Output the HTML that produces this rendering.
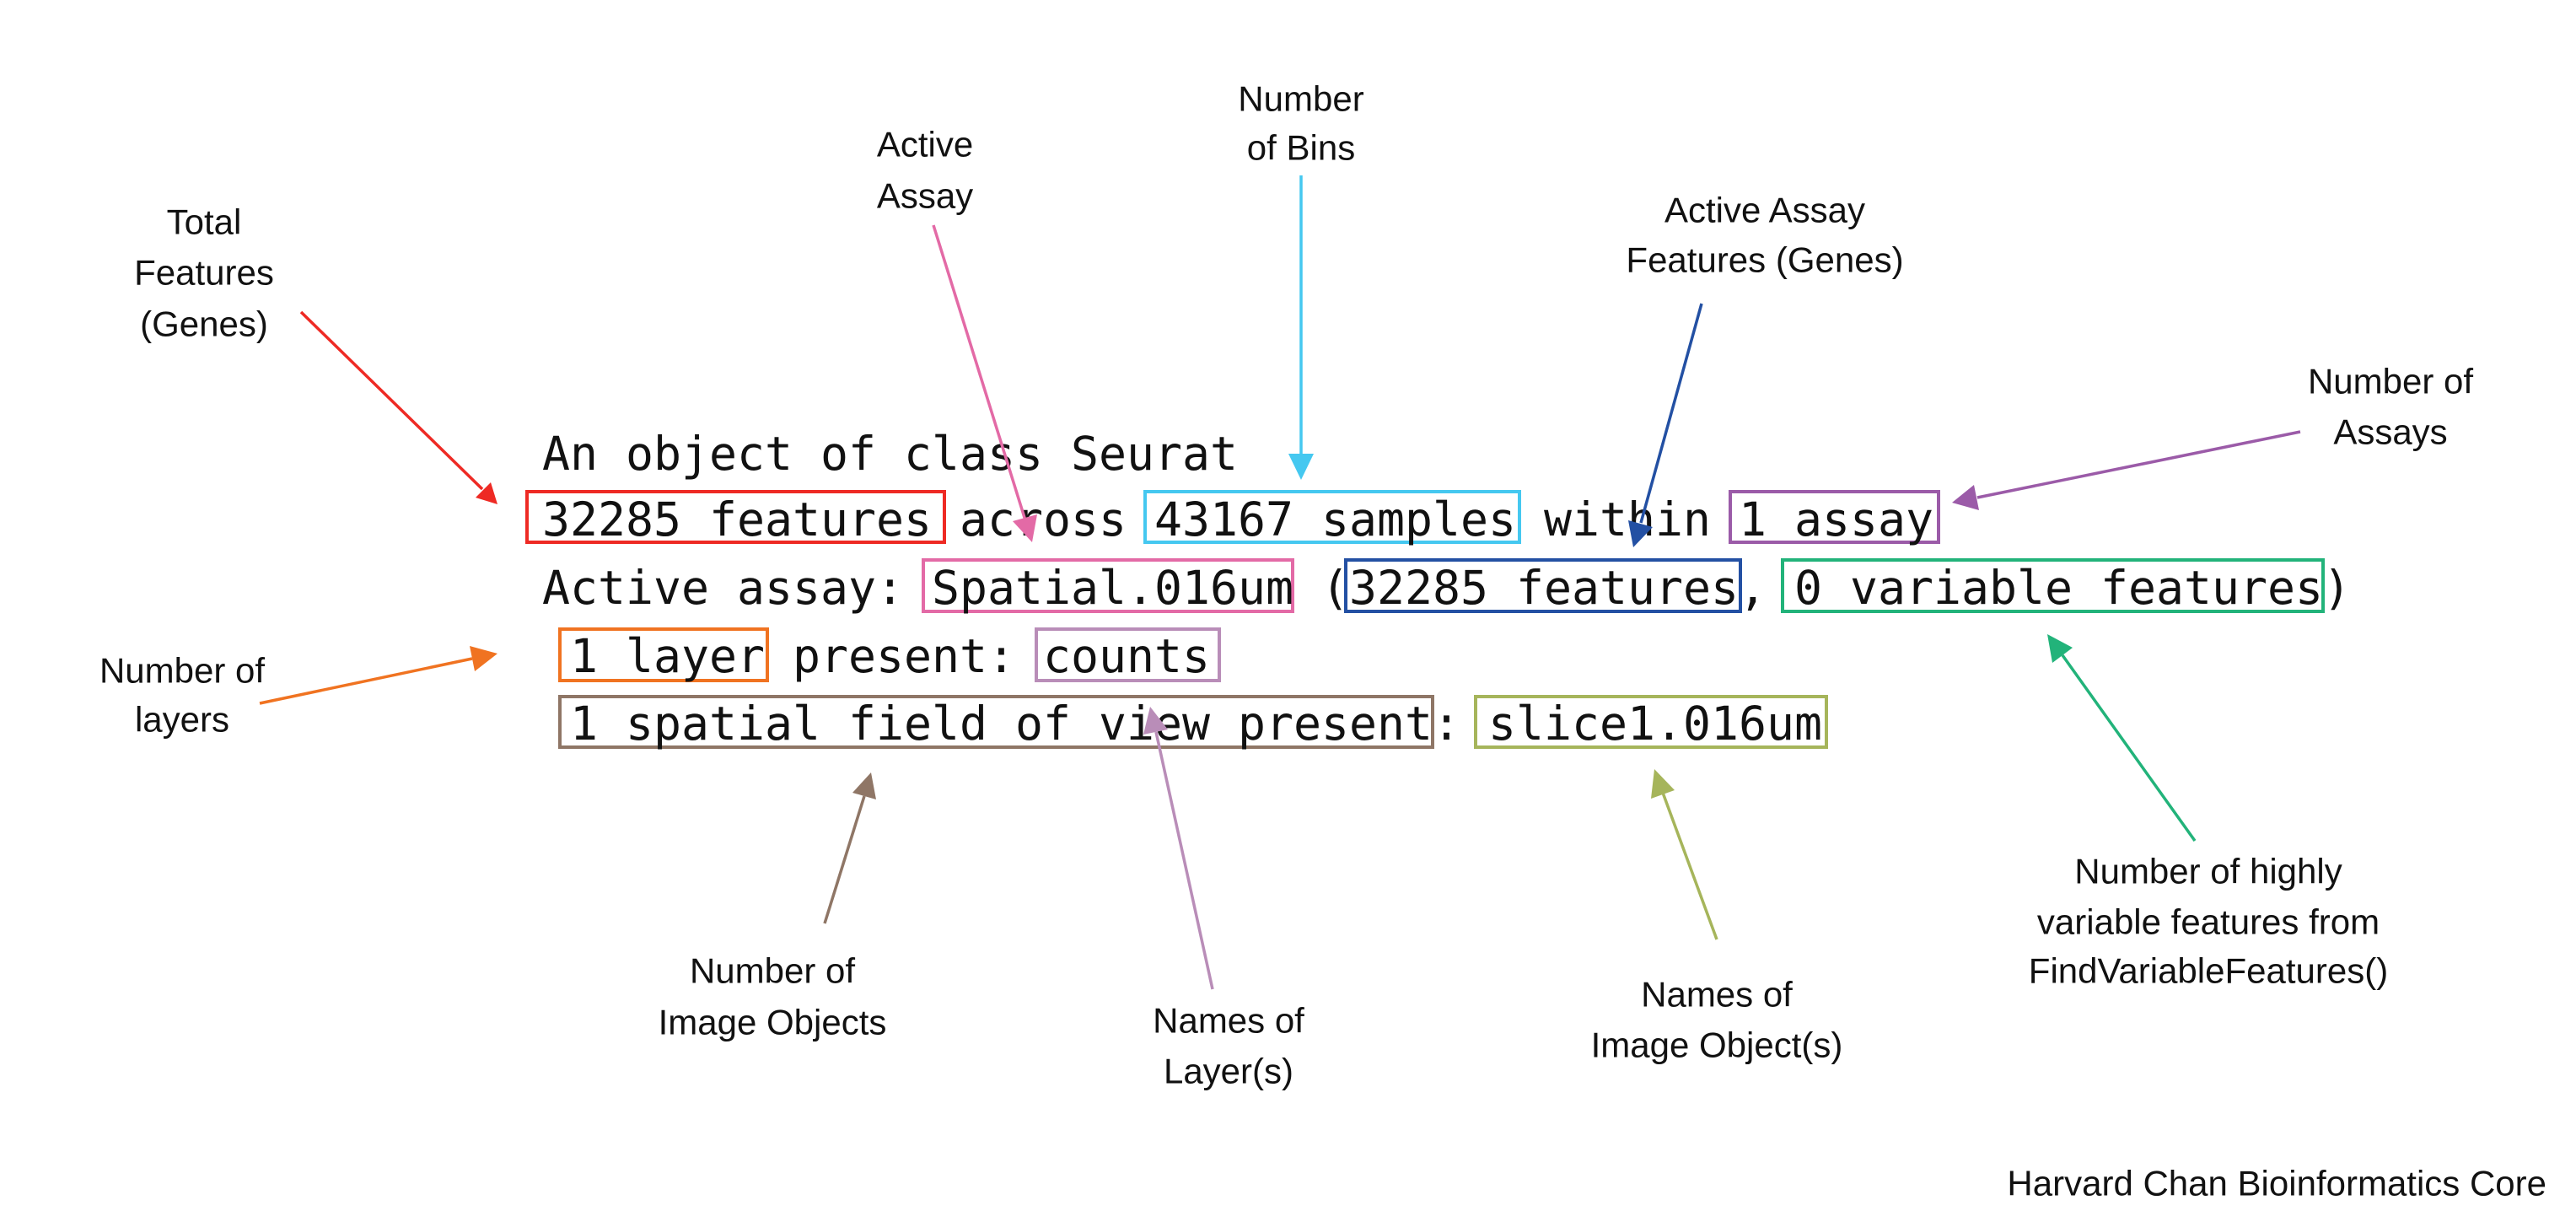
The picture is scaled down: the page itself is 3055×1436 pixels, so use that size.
<!DOCTYPE html>
<html><head><meta charset="utf-8"><style>
html,body{margin:0;padding:0;background:#fff;}
svg{display:block;}
.m{font-family:"DejaVu Sans Mono","Liberation Mono",monospace;font-size:55px;fill:#111;}
.l{font-family:"Liberation Sans",sans-serif;font-size:42px;fill:#111;text-anchor:middle;dominant-baseline:central;}
</style></head><body>
<svg width="3055" height="1436" viewBox="0 0 3055 1436" xmlns="http://www.w3.org/2000/svg">
<g fill="none" stroke-width="4">
<rect x="625" y="583" width="495" height="60" stroke="#ee2a24"/>
<rect x="1358" y="583" width="444" height="60" stroke="#45c8f0"/>
<rect x="2052" y="583" width="247" height="60" stroke="#9b5ba8"/>
<rect x="1095" y="664" width="438" height="61" stroke="#e36aa6"/>
<rect x="1596" y="664" width="468" height="61" stroke="#2350a3"/>
<rect x="2114" y="664" width="641" height="61" stroke="#22b37a"/>
<rect x="664" y="746" width="246" height="61" stroke="#f07321"/>
<rect x="1229" y="746" width="217" height="61" stroke="#b98db8"/>
<rect x="664" y="826" width="1035" height="60" stroke="#8f7666"/>
<rect x="1750" y="826" width="416" height="60" stroke="#a6b55b"/>
</g>
<text class="m" x="643" y="557" textLength="825" lengthAdjust="spacingAndGlyphs">An object of class Seurat</text>
<text class="m" x="643" y="635" textLength="1650" lengthAdjust="spacingAndGlyphs">32285 features across 43167 samples within 1 assay</text>
<text class="m" x="643" y="716" textLength="2145" lengthAdjust="spacingAndGlyphs">Active assay: Spatial.016um (32285 features, 0 variable features)</text>
<text class="m" x="676" y="797" textLength="759" lengthAdjust="spacingAndGlyphs">1 layer present: counts</text>
<text class="m" x="676" y="877" textLength="1485" lengthAdjust="spacingAndGlyphs">1 spatial field of view present: slice1.016um</text>
<g stroke-width="3.5" fill="none">
<line x1="357" y1="370" x2="572" y2="580" stroke="#ee2a24"/>
<line x1="1107" y1="267" x2="1216" y2="617" stroke="#e36aa6"/>
<line x1="1543" y1="208" x2="1543" y2="540" stroke="#45c8f0"/>
<line x1="2018" y1="360" x2="1946" y2="620" stroke="#2350a3"/>
<line x1="2728" y1="512" x2="2345" y2="590" stroke="#9b5ba8"/>
<line x1="308" y1="834" x2="560" y2="781" stroke="#f07321"/>
<line x1="2603" y1="997" x2="2446" y2="777" stroke="#22b37a"/>
<line x1="2036" y1="1114" x2="1972" y2="940" stroke="#a6b55b"/>
<line x1="1438" y1="1173" x2="1371" y2="868" stroke="#b98db8"/>
<line x1="978" y1="1095" x2="1025" y2="944" stroke="#8f7666"/>
</g>
<g>
<polygon points="590,598 564,590 582,572" fill="#ee2a24"/>
<polygon points="1224,643 1201,618 1230,610" fill="#e36aa6"/>
<polygon points="1543,569 1528,538 1558,538" fill="#45c8f0"/>
<polygon points="1937,649 1931,617 1960,625" fill="#2350a3"/>
<polygon points="2315,596 2341,575 2347,605" fill="#9b5ba8"/>
<polygon points="590,775 563,796 557,766" fill="#f07321"/>
<polygon points="2428,752 2458,768 2434,786" fill="#22b37a"/>
<polygon points="1962,912 1986,937 1958,947" fill="#a6b55b"/>
<polygon points="1364,838 1385,865 1356,871" fill="#b98db8"/>
<polygon points="1033,916 1039,948 1011,940" fill="#8f7666"/>
</g>
<text class="l" x="242" y="263">Total</text>
<text class="l" x="242" y="323">Features</text>
<text class="l" x="242" y="384">(Genes)</text>
<text class="l" x="1097" y="171">Active</text>
<text class="l" x="1097" y="232">Assay</text>
<text class="l" x="1543" y="117">Number</text>
<text class="l" x="1543" y="175">of Bins</text>
<text class="l" x="2093" y="249">Active Assay</text>
<text class="l" x="2093" y="308">Features (Genes)</text>
<text class="l" x="2835" y="452">Number of</text>
<text class="l" x="2835" y="512">Assays</text>
<text class="l" x="216" y="795">Number of</text>
<text class="l" x="216" y="853">layers</text>
<text class="l" x="2619" y="1033">Number of highly</text>
<text class="l" x="2619" y="1093">variable features from</text>
<text class="l" x="2619" y="1151">FindVariableFeatures()</text>
<text class="l" x="916" y="1151">Number of</text>
<text class="l" x="916" y="1212">Image Objects</text>
<text class="l" x="1457" y="1210">Names of</text>
<text class="l" x="1457" y="1270">Layer(s)</text>
<text class="l" x="2036" y="1179">Names of</text>
<text class="l" x="2036" y="1239">Image Object(s)</text>
<text class="l" x="3020" y="1403" style="text-anchor:end">Harvard Chan Bioinformatics Core</text>
</svg>
</body></html>
